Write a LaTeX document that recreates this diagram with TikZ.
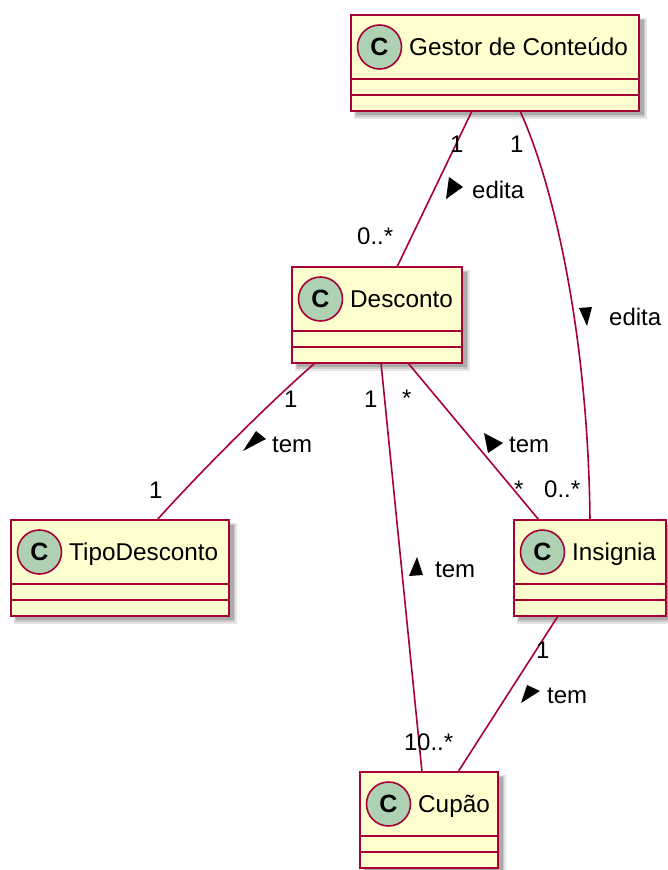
\documentclass[tikz,border=0pt]{standalone}
\usepackage{fontspec}
\setmainfont{Liberation Sans}
\usetikzlibrary{calc}
\definecolor{umlfill}{HTML}{FEFECE}
\definecolor{umlborder}{HTML}{A80036}
\definecolor{umlcircle}{HTML}{ADD1B2}

\tikzset{
  classbox/.style={draw=umlborder, fill=umlfill, line width=2.4pt, rectangle,
    inner sep=0pt, outer sep=0pt, anchor=north west},
  classdiv/.style={draw=umlborder, line width=2.4pt},
  classmark/.style={circle, draw=umlborder, fill=umlcircle, line width=1.6pt,
    minimum size=44pt, inner sep=0pt, font=\fontsize{25}{25}\selectfont\bfseries},
  classname/.style={anchor=base west, inner sep=0pt, font=\fontsize{24.3}{29}\selectfont},
  assoc/.style={draw=umlborder, line width=1.6pt},
  mult/.style={anchor=base west, inner sep=0pt, font=\fontsize{24}{28}\selectfont},
  dirtip/.style={fill=black},
}

% class box: node name, left, top, right, title (coordinates in px, y downwards)
\newcommand\umlclass[5]{%
  \fill[black, opacity=0.10] (#2+3,#3+3) rectangle (#4+8,#3+104);
  \fill[black, opacity=0.12] (#2+4,#3+4) rectangle (#4+6,#3+102);
  \fill[black, opacity=0.15] (#2+5,#3+5) rectangle (#4+5,#3+100);
  \node[classbox, minimum width={#4-#2}, minimum height=96pt] (#1) at (#2,#3) {};
  \draw[classdiv] ([yshift=-64pt]#1.north west) -- ([yshift=-64pt]#1.north east);
  \draw[classdiv] ([yshift=-80pt]#1.north west) -- ([yshift=-80pt]#1.north east);
  \node[classmark] (#1-mark) at ([xshift=28.5pt,yshift=-32pt]#1.north west) {C};
  \node[classname] (#1-name) at ([xshift=58pt,yshift=-40pt]#1.north west) {#5};
}

\begin{document}
\begin{tikzpicture}[x=1pt, y=-1pt]
  \useasboundingbox (0,0) rectangle (667,870);

  % classes
  \umlclass{gestor}{351}{15}{639}{Gestor de Conteúdo}
  \umlclass{desconto}{292}{267}{462}{Desconto}
  \umlclass{tipo}{11}{520}{229}{TipoDesconto}
  \umlclass{insignia}{514}{520}{666}{Insignia}
  \umlclass{cupao}{360}{772}{498}{Cupão}

  % associations
  \draw[assoc] ([xshift=121pt]gestor.south west) -- ([xshift=105pt]desconto.north west);
  \draw[assoc] ([xshift=169pt]gestor.south west)
     .. controls (552,180) and (588,330) .. ([xshift=76pt]insignia.north west);
  \draw[assoc] ([xshift=23pt]desconto.south west)
     .. controls (267,405) and (202,470) .. ([xshift=146pt]tipo.north west);
  \draw[assoc] ([xshift=89pt]desconto.south west) -- ([xshift=62pt]cupao.north west);
  \draw[assoc] ([xshift=116pt]desconto.south west) -- ([xshift=25pt]insignia.north west);
  \draw[assoc] ([xshift=44pt]insignia.south west) -- ([xshift=98pt]cupao.north west);

  % Gestor de Conteudo -- Desconto
  \node[mult] (m-gd1) at (450,152) {1};
  \node[mult] (m-gd2) at (357,244) {0..*};
  \fill[dirtip] (449,177) -- (463,187) -- (446,199) -- cycle;
  \node[mult] (l-gd) at (472,198) {edita};

  % Gestor de Conteudo -- Insignia
  \node[mult] (m-gi1) at (510,152) {1};
  \node[mult] (m-gi2) at (544,497) {0..*};
  \fill[dirtip] (579,308) -- (592,307) -- (587,326) -- cycle;
  \node[mult] (l-gi) at (609,325) {edita};

  % Desconto -- TipoDesconto
  \node[mult] (m-dt1) at (284,407) {1};
  \node[mult] (m-dt2) at (149,498) {1};
  \fill[dirtip] (256,431) -- (266,439) -- (243,451) -- cycle;
  \node[mult] (l-dt) at (272,452) {tem};

  % Desconto -- Insignia
  \node[mult] (m-di1) at (402,406) {*};
  \node[mult] (m-di2) at (514,497) {*};
  \fill[dirtip] (484,433) -- (503,443) -- (488,453) -- cycle;
  \node[mult] (l-di) at (509,452) {tem};

  % Desconto -- Cupao
  \node[mult] (m-dc1) at (364,407) {1};
  \node[mult] (m-dc2) at (404,750) {1};
  \fill[dirtip] (417,557) -- (423,575) -- (409,576) -- cycle;
  \node[mult] (l-dc) at (435,577) {tem};

  % Insignia -- Cupao
  \node[mult] (m-ic1) at (536,658) {1};
  \node[mult] (m-ic2) at (417,750) {0..*};
  \fill[dirtip] (527,685) -- (540,691) -- (521,703) -- cycle;
  \node[mult] (l-ic) at (547,703) {tem};
\end{tikzpicture}
\end{document}
